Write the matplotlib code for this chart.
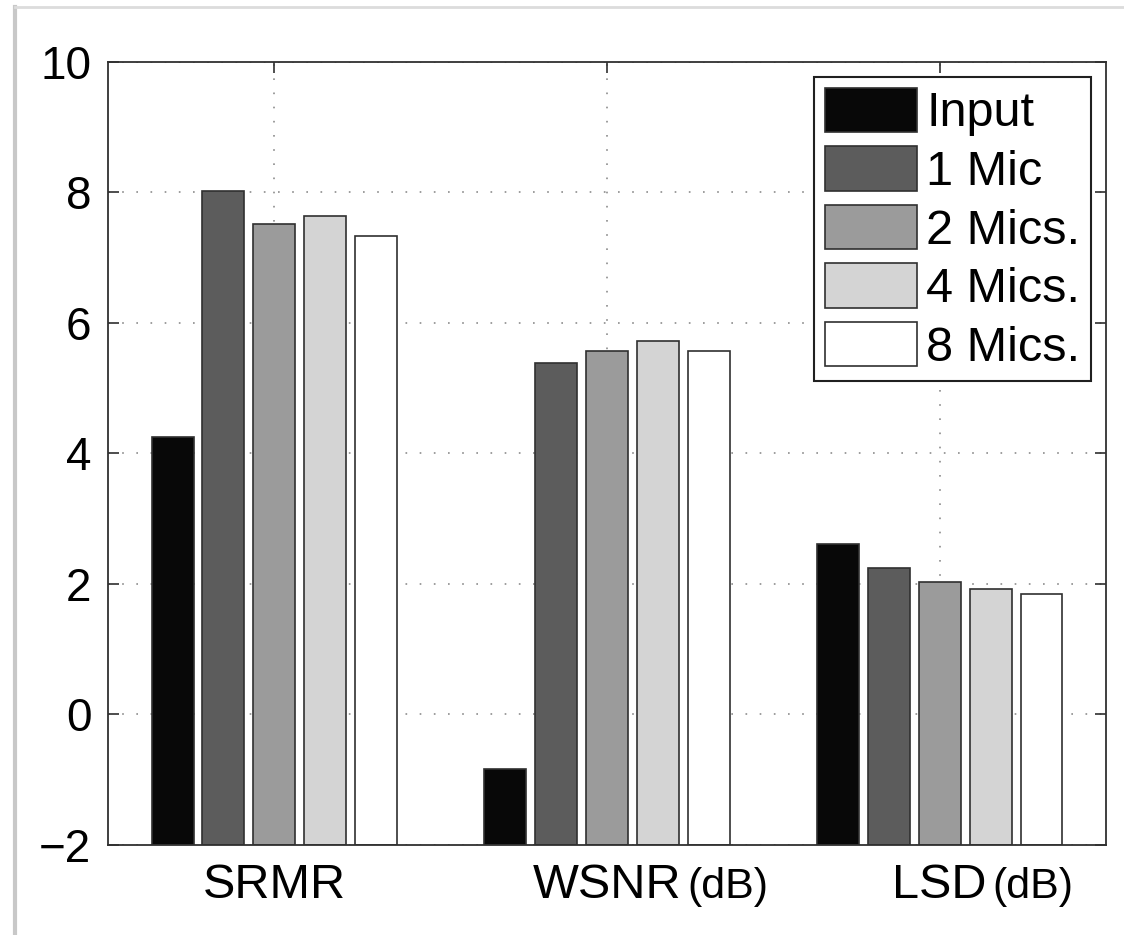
import numpy as np
import matplotlib.pyplot as plt
from matplotlib.lines import Line2D

plt.rcParams['font.family'] = ['Liberation Sans', 'DejaVu Sans']

metrics = ['SRMR', 'WSNR', 'LSD']
units = ['', '(dB)', '(dB)']
series = ['Input', '1 Mic', '2 Mics.', '4 Mics.', '8 Mics.']
colors = ['#080808', '#5c5c5c', '#9b9b9b', '#d4d4d4', '#ffffff']

# values per series, in metric order
input_vals = [4.25, -0.83, 2.61]
mic1_vals = [8.03, 5.38, 2.24]
mic2_vals = [7.51, 5.57, 2.03]
mic4_vals = [7.64, 5.72, 1.93]
mic8_vals = [7.34, 5.57, 1.84]
all_vals = [input_vals, mic1_vals, mic2_vals, mic4_vals, mic8_vals]

yticks = [-2, 0, 2, 4, 6, 8, 10]

fig = plt.figure(figsize=(11.24, 9.35), dpi=100)
ax = fig.add_axes([0.0961, 0.0963, 0.8879, 0.8374])

x = np.arange(1, len(metrics) + 1)
step = 0.153
width = 0.126
for i, (vals, name, col) in enumerate(zip(all_vals, series, colors)):
    ax.bar(x + (i - 2) * step, np.array(vals) + 2, width, bottom=-2,
           color=col, edgecolor='#303030', linewidth=1.2, label=name, zorder=2)

ax.set_xlim(0.5, 3.5)
ax.set_ylim(-2, 10)
ax.set_yticks(yticks)
ax.set_xticks(x)
ax.set_xticklabels([])
ax.grid(True, linestyle=(0, (1, 7.5)), color='#8c8c8c', linewidth=1.2, zorder=0)
ax.set_axisbelow(True)
ax.tick_params(direction='in', length=8, width=1.2, top=True, right=True,
               labelsize=33, pad=12, colors='#303030', labelcolor='black')
for sp in ax.spines.values():
    sp.set_linewidth(1.3)
    sp.set_color('#303030')

# category labels with smaller unit suffix
for xi, name, unit in zip(x, metrics, units):
    t = ax.annotate(name, xy=(xi, 0), xycoords=('data', 'axes fraction'),
                    xytext=(0, -13), textcoords='offset points',
                    ha='center', va='top', fontsize=35)
    if unit:
        ax.annotate(unit, xy=(1, 0), xycoords=t, xytext=(4, 1),
                    textcoords='offset points', ha='left', va='bottom',
                    fontsize=31)

leg = ax.legend(loc='upper right', bbox_to_anchor=(0.985, 0.981),
                borderaxespad=0, fontsize=35, fancybox=False,
                handlelength=1.91, handleheight=1.03, labelspacing=0.2,
                handletextpad=0.18, borderpad=0.22, framealpha=1)
leg.get_frame().set_edgecolor('#202020')
leg.get_frame().set_linewidth(1.5)

# grey edge of the original figure (left and top only)
fig.lines.append(Line2D([0.013, 0.013], [0, 0.993], transform=fig.transFigure,
                        color='#c8c8c8', linewidth=3))
fig.lines.append(Line2D([0.013, 1], [0.993, 0.993], transform=fig.transFigure,
                        color='#dcdcdc', linewidth=2))

fig.savefig('out.png', dpi=100)
